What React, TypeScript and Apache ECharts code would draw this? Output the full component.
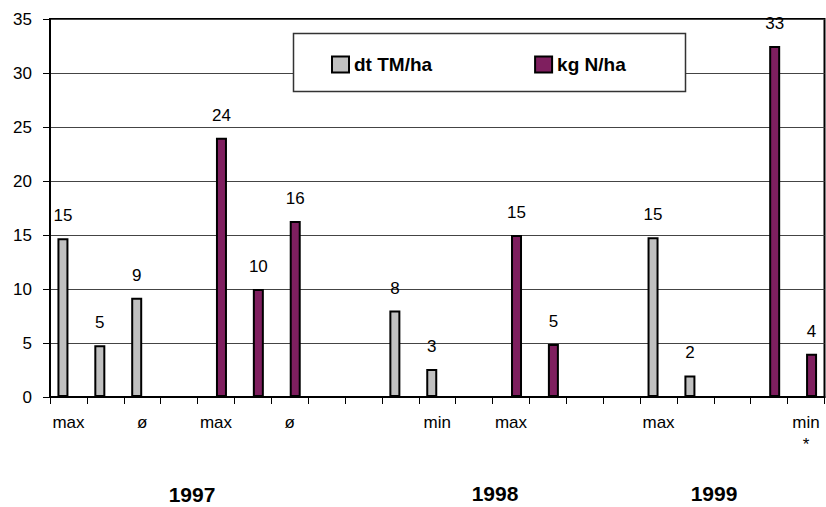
import React, { useEffect, useRef } from "react";
import * as echarts from "echarts";

const categories = ["max", "", "ø", "", "max", "", "ø", "", "", "", "min", "", "max", "", "", "", "max", "", "", "", "min\n*"];
const dtTM = [14.7, 4.8, 9.2, null, null, null, null, null, null, 8.0, 2.6, null, null, null, null, null, 14.8, 2.0, null, null, null];
const kgN = [null, null, null, null, 24.0, 10.0, 16.3, null, null, null, null, null, 15.0, 4.9, null, null, null, null, null, 32.5, 4.0];
const seriesNames = ["dt TM/ha", "kg N/ha"];
const yearLabels = ["1997", "1998", "1999"];
const yTicks = { min: 0, max: 35, interval: 5 };

const FONT = '"Liberation Sans", Arial, sans-serif';

export default function App() {
  const ref = useRef<HTMLDivElement>(null);
  useEffect(() => {
    if (!ref.current) return;
    const chart = echarts.init(ref.current, undefined, { renderer: "svg" });
    const label = {
      show: true,
      position: "top" as const,
      distance: 14,
      color: "#000",
      fontSize: 17,
      fontFamily: FONT,
      formatter: (p: any) => String(Math.round(p.value)),
    };
    const yearStyle = (t: string) => ({
      text: t,
      fontSize: 21,
      fontWeight: "bold",
      fontFamily: FONT,
      fill: "#000",
      textAlign: "center",
      textVerticalAlign: "middle",
      align: "center",
      verticalAlign: "middle",
    });
    chart.setOption({
      animation: false,
      backgroundColor: "#fff",
      textStyle: { fontFamily: FONT },
      grid: {
        left: 50,
        right: 1.5,
        top: 19,
        bottom: 110,
        show: true,
        borderColor: "#000",
        borderWidth: 2,
      },
      legend: {
        left: 331,
        top: 55,
        padding: 0,
        itemWidth: 17,
        itemHeight: 16,
        itemGap: 102,
        icon: "rect",
        textStyle: { fontSize: 19, fontWeight: "bold", color: "#000", fontFamily: FONT },
        data: seriesNames,
      },
      xAxis: {
        type: "category",
        data: categories,
        boundaryGap: true,
        axisLine: { lineStyle: { color: "#000", width: 2 } },
        axisTick: { show: true, length: 7, lineStyle: { color: "#000", width: 1 }, interval: 0 },
        axisLabel: { interval: 0, color: "#000", fontSize: 17, lineHeight: 22, margin: 14, fontFamily: FONT },
        splitLine: { show: false },
      },
      yAxis: {
        type: "value",
        min: yTicks.min,
        max: yTicks.max,
        interval: yTicks.interval,
        axisLine: { show: true, lineStyle: { color: "#000", width: 2 } },
        axisTick: { show: true, length: 7, lineStyle: { color: "#000", width: 1 } },
        axisLabel: { color: "#000", fontSize: 17, margin: 18, fontFamily: FONT },
        splitLine: { show: true, lineStyle: { color: "#444", width: 1 } },
      },
      series: [
        {
          name: seriesNames[0],
          type: "bar",
          data: dtTM,
          barWidth: 11,
          barGap: "0%",
          itemStyle: { color: "#C0C0C0", borderColor: "#000", borderWidth: 2 },
          label,
        },
        {
          name: seriesNames[1],
          type: "bar",
          data: kgN,
          barWidth: 11,
          barGap: "0%",
          itemStyle: { color: "#7F1F5F", borderColor: "#000", borderWidth: 2 },
          label,
        },
      ],
      graphic: [
        {
          type: "rect",
          z: 3,
          shape: { x: 293.5, y: 33.5, width: 392, height: 58 },
          style: { fill: "#fff", stroke: "#333", lineWidth: 1.5 },
        },
        { type: "text", x: 192, y: 494, style: yearStyle(yearLabels[0]) },
        { type: "text", x: 495, y: 493, style: yearStyle(yearLabels[1]) },
        { type: "text", x: 714, y: 493, style: yearStyle(yearLabels[2]) },
      ],
    });
    return () => chart.dispose();
  }, []);
  return <div ref={ref} style={{ position: "fixed", left: 0, top: 0, width: 826, height: 507 }} />;
}
